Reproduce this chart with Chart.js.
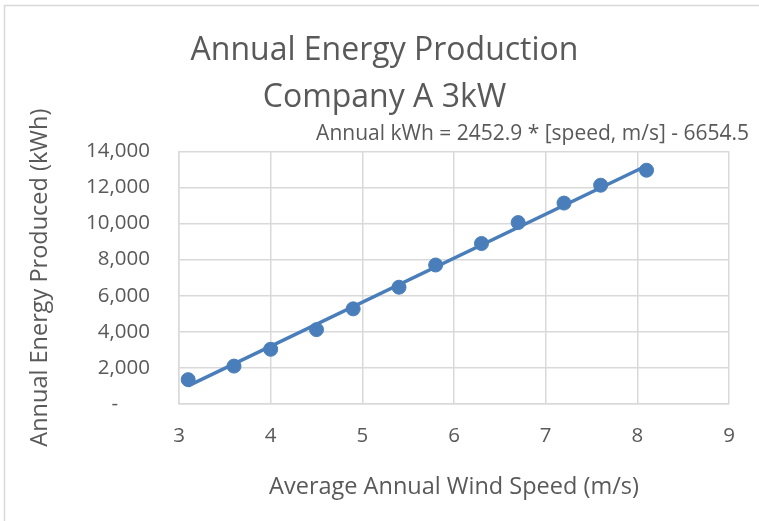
<!DOCTYPE html>
<html>
<head>
<meta charset="utf-8">
<script src="https://cdn.jsdelivr.net/npm/chart.js@4/dist/chart.umd.min.js"></script>
<style>
  html, body { margin: 0; padding: 0; background: #fff; }
  #wrap { width: 759px; height: 521px; }
</style>
</head>
<body>
<div id="wrap"><canvas id="aep-chart"></canvas></div>
<script>
  /* ---- data ---- */
  var windSpeed = [3.1, 3.6, 4.0, 4.5, 4.9, 5.4, 5.8, 6.3, 6.7, 7.2, 7.6, 8.1];
  var energyKwh = [1350, 2100, 3030, 4120, 5270, 6470, 7700, 8890, 10050, 11130, 12120, 12950];
  var trendSpeed = [3.1, 8.1];
  var trendKwh = [1000, 13200];
  var titleLines = ['Annual Energy Production', 'Company A 3kW'];
  var equationText = 'Annual kWh = 2452.9 * [speed, m/s] - 6654.5';

  var textColor = '#595959';
  var gridColor = '#d9d9d9';
  var blue = '#4a7ebb';
  var fontFamily = "'Open Sans', 'Noto Sans', sans-serif";

  /* ---- outer chart frame (left + top edges visible) ---- */
  var framePlugin = {
    id: 'frame',
    beforeDraw: function(chart) {
      var c = chart.ctx;
      c.save();
      c.fillStyle = '#fff';
      c.fillRect(0, 0, chart.width, chart.height);
      c.strokeStyle = gridColor;
      c.lineWidth = 1.5;
      c.beginPath();
      c.moveTo(4.5, chart.height);
      c.lineTo(4.5, 5.5);
      c.lineTo(chart.width, 5.5);
      c.stroke();
      c.restore();
    }
  };

  var points = windSpeed.map(function(x, i) { return {x: x, y: energyKwh[i]}; });
  var trend = trendSpeed.map(function(x, i) { return {x: x, y: trendKwh[i]}; });

  new Chart(document.getElementById('aep-chart'), {
    type: 'scatter',
    data: {
      datasets: [{
        label: 'Trend',
        data: trend,
        showLine: true,
        borderColor: blue,
        borderWidth: 3.5,
        pointRadius: 0,
        fill: false,
        order: 2
      }, {
        label: 'Annual Energy',
        data: points,
        backgroundColor: blue,
        borderColor: blue,
        pointRadius: 7,
        pointHoverRadius: 7,
        order: 1
      }]
    },
    options: {
      responsive: true,
      maintainAspectRatio: false,
      animation: false,
      layout: { padding: { left: 20, right: 10, top: 0, bottom: 17 } },
      plugins: {
        legend: { display: false },
        tooltip: { enabled: false },
        title: {
          display: true,
          text: titleLines,
          color: textColor,
          font: { family: fontFamily, size: 32, weight: 'normal', lineHeight: 1.47 },
          padding: { top: 27, bottom: 0 }
        },
        subtitle: {
          display: true,
          text: equationText,
          align: 'end',
          color: textColor,
          font: { family: fontFamily, size: 21, weight: 'normal', lineHeight: 1.2 },
          padding: { top: 0, bottom: 5 }
        }
      },
      scales: {
        x: {
          type: 'linear',
          min: 3,
          max: 9,
          ticks: {
            stepSize: 1,
            color: textColor,
            padding: 20,
            font: { family: fontFamily, size: 20.5 }
          },
          grid: { color: gridColor, lineWidth: 1.5, drawTicks: false },
          border: { color: gridColor, width: 1.5 },
          title: {
            display: true,
            text: 'Average Annual Wind Speed (m/s)',
            color: textColor,
            font: { family: fontFamily, size: 23.5, lineHeight: 1.2 },
            padding: { top: 0, bottom: 3 }
          },
          afterFit: function(scale) { scale.height = 100; }
        },
        y: {
          type: 'linear',
          min: 0,
          max: 14000,
          ticks: {
            stepSize: 2000,
            color: textColor,
            padding: 29,
            font: { family: fontFamily, size: 20.5 },
            callback: function(v) { return v === 0 ? '-      ' : v.toLocaleString('en-US'); }
          },
          grid: { color: gridColor, lineWidth: 1.5, drawTicks: false },
          border: { color: gridColor, width: 1.5 },
          title: {
            display: true,
            text: 'Annual Energy Produced (kWh)',
            color: textColor,
            font: { family: fontFamily, size: 23.5, lineHeight: 1.2 },
            padding: { top: 6, bottom: 0 }
          },
          afterFit: function(scale) { scale.width = 159; }
        },
        yRight: {
          type: 'linear',
          position: 'right',
          display: true,
          ticks: { display: false },
          grid: { display: false, drawTicks: false },
          border: { display: false },
          afterFit: function(scale) { scale.width = 20; }
        }
      }
    },
    plugins: [framePlugin]
  });
</script>
</body>
</html>
